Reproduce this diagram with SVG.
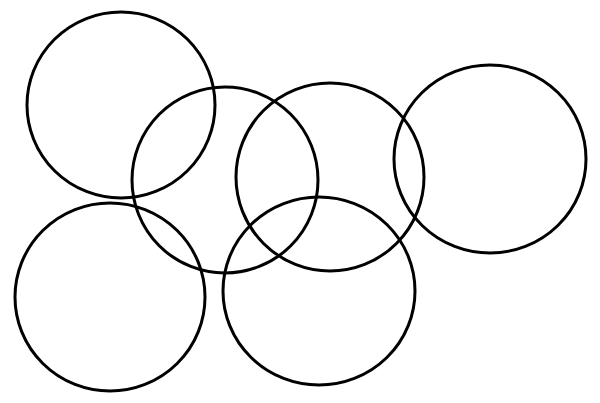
<svg xmlns="http://www.w3.org/2000/svg" width="600" height="403" viewBox="0 0 600 403">
<style>.c{fill:none;stroke:#000;stroke-width:3}</style>
<rect width="600" height="403" fill="#fff"/>
<g id="c1"><ellipse class="c" cx="121" cy="105" rx="94" ry="93"/></g>
<g id="c2"><ellipse class="c" cx="225" cy="180" rx="93" ry="93"/></g>
<g id="c3"><ellipse class="c" cx="330" cy="177" rx="94" ry="94"/></g>
<g id="c4"><ellipse class="c" cx="490" cy="159" rx="96" ry="94"/></g>
<g id="c5"><ellipse class="c" cx="110" cy="297" rx="95" ry="94"/></g>
<g id="c6"><ellipse class="c" cx="319" cy="291" rx="96" ry="94"/></g>
</svg>
